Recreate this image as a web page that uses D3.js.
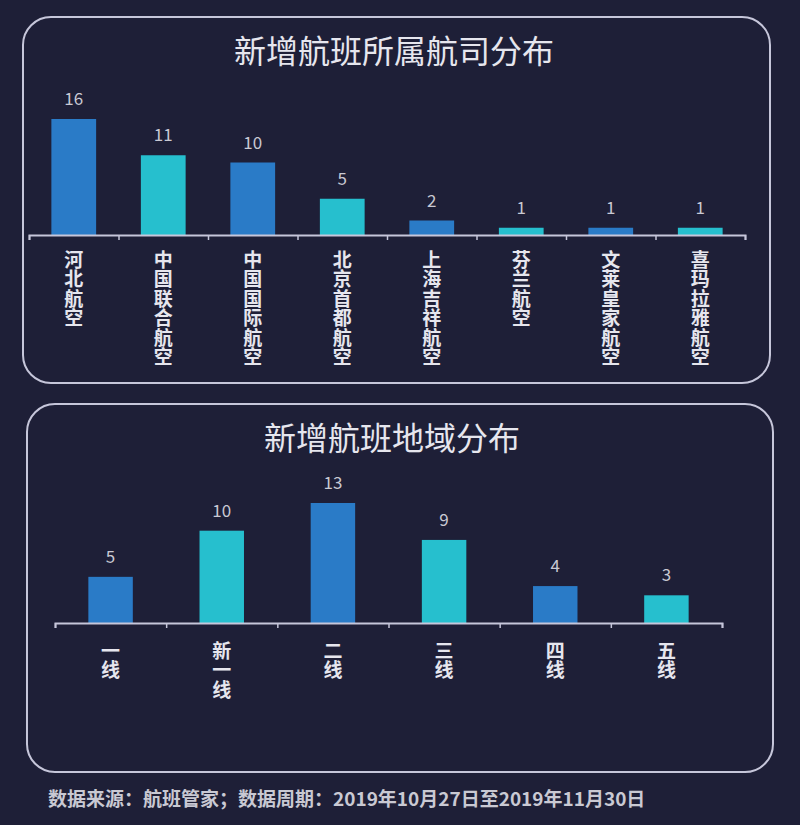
<!DOCTYPE html>
<html>
<head>
<meta charset="utf-8">
<script src="https://cdn.jsdelivr.net/npm/d3@7"></script>
<style>
  body { margin: 0; background: #1e1f37; }
  svg { display: block; font-family: "Noto Sans CJK SC", "Noto Sans", sans-serif; }
</style>
</head>
<body>
<div id="chart"></div>
<script>
// Chart data.
const airlineNames = ["河北航空", "中国联合航空", "中国国际航空", "北京首都航空", "上海吉祥航空", "芬兰航空", "文莱皇家航空", "喜玛拉雅航空"];
const airlineCounts = [16, 11, 10, 5, 2, 1, 1, 1];

const regionNames = ["一线", "新一线", "二线", "三线", "四线", "五线"];
const regionCounts = [5, 10, 13, 9, 4, 3];

const titles = ["新增航班所属航司分布", "新增航班地域分布"];
const footnote = "数据来源：航班管家；数据周期：2019年10月27日至2019年11月30日";

const WIDTH = 800, HEIGHT = 825;
const BLUE = "#2a7bc7", CYAN = "#26bfce";
const LINE = "#c6c6da", TEXT = "#e6e6ee", LABEL = "#c9c9d3";

let svg = d3.select("#chart")
    .append("svg")
    .attr("width", WIDTH)
    .attr("height", HEIGHT);

svg.append("rect")
    .attr("width", WIDTH)
    .attr("height", HEIGHT)
    .attr("fill", "#1e1f37");

// Draw one rounded panel with a title and a bar chart inside.
function drawPanel(opt) {
    const g = svg.append("g");

    g.append("rect")
        .attr("x", opt.box[0])
        .attr("y", opt.box[1])
        .attr("width", opt.box[2])
        .attr("height", opt.box[3])
        .attr("rx", 28)
        .attr("fill", "none")
        .attr("stroke", LINE)
        .attr("stroke-width", 2);

    g.append("text")
        .attr("x", opt.titleX)
        .attr("y", opt.titleY)
        .attr("text-anchor", "middle")
        .attr("fill", TEXT)
        .attr("font-size", 32)
        .text(opt.title);

    const xScale = d3.scaleBand()
        .domain(opt.names)
        .range(opt.xRange)
        .paddingInner(opt.padding)
        .paddingOuter(opt.padding / 2);

    const yScale = d3.scaleLinear()
        .domain([0, d3.max(opt.values)])
        .range([opt.baseY, opt.topY]);

    // Ticks sit on the borders between the categories.
    const edgeScale = d3.scaleLinear()
        .domain([0, opt.names.length])
        .range(opt.xRange);

    const rows = opt.names.map((n, i) => ({ name: n, value: opt.values[i], i: i }));

    g.selectAll(".bar")
        .data(rows)
        .enter()
        .append("rect")
        .attr("class", "bar")
        .attr("x", d => xScale(d.name))
        .attr("y", d => yScale(d.value))
        .attr("width", xScale.bandwidth())
        .attr("height", d => yScale(0) - yScale(d.value))
        .attr("fill", d => d.i % 2 === 0 ? BLUE : CYAN);

    g.selectAll(".val")
        .data(rows)
        .enter()
        .append("text")
        .attr("class", "val")
        .attr("x", d => xScale(d.name) + xScale.bandwidth() / 2)
        .attr("y", d => yScale(d.value) - 14)
        .attr("text-anchor", "middle")
        .attr("fill", LABEL)
        .attr("font-size", 17)
        .text(d => d.value);

    const axis = g.append("g")
        .attr("transform", `translate(0, ${opt.baseY})`)
        .call(d3.axisBottom(edgeScale)
            .ticks(opt.names.length)
            .tickSize(5)
            .tickSizeOuter(5)
            .tickFormat(""));
    axis.select(".domain").attr("stroke", LINE).attr("stroke-width", 2);
    axis.selectAll(".tick line").attr("stroke", LINE).attr("stroke-width", 1.5);

    // Category names run top to bottom, upright characters.
    g.selectAll(".cat")
        .data(rows)
        .enter()
        .append("text")
        .attr("class", "cat")
        .attr("x", d => xScale(d.name) + xScale.bandwidth() / 2)
        .attr("y", opt.baseY + opt.labelTop)
        .style("writing-mode", "vertical-rl")
        .attr("letter-spacing", 0.5)
        .attr("fill", TEXT)
        .attr("font-size", 19)
        .attr("font-weight", "bold")
        .text(d => d.name);
}

drawPanel({
    box: [23, 17, 747, 366],
    title: titles[0],
    titleX: 394, titleY: 63,
    names: airlineNames,
    values: airlineCounts,
    xRange: [29, 745],
    padding: 0.5,
    baseY: 235, topY: 119,
    labelTop: 15
});

drawPanel({
    box: [27, 404, 746, 368],
    title: titles[1],
    titleX: 392, titleY: 450,
    names: regionNames,
    values: regionCounts,
    xRange: [55, 722],
    padding: 0.6,
    baseY: 623, topY: 503,
    labelTop: 18
});

svg.append("text")
    .attr("x", 48)
    .attr("y", 806)
    .attr("fill", LABEL)
    .attr("font-size", 19)
    .attr("font-weight", "bold")
    .text(footnote);
</script>
</body>
</html>
